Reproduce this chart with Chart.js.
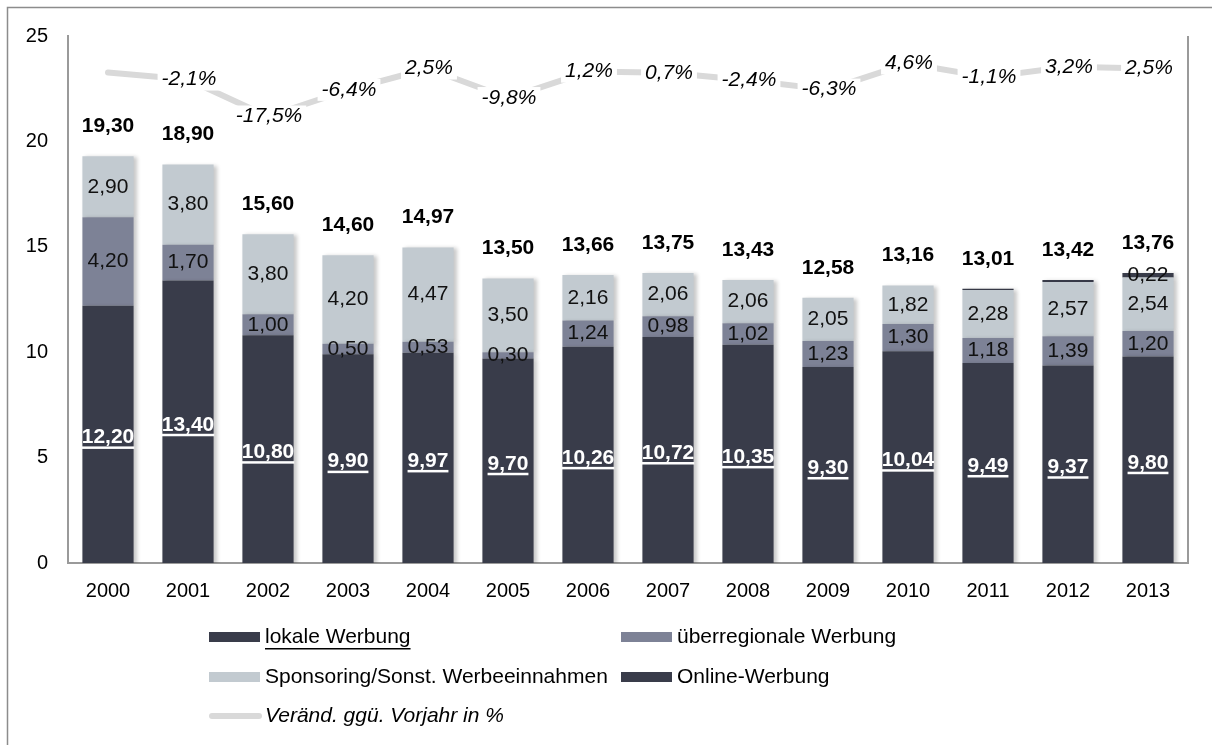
<!DOCTYPE html>
<html><head><meta charset="utf-8">
<script src="https://cdn.jsdelivr.net/npm/chart.js@4.4.0/dist/chart.umd.min.js"></script>
<style>html,body{margin:0;padding:0;background:#fff}#wrap{position:relative;width:1212px;height:745px}</style>
</head><body><div id="wrap"><canvas id="c" width="1212" height="745"></canvas></div>
<script>
// ---- data ----
const years = ['2000','2001','2002','2003','2004','2005','2006','2007','2008','2009','2010','2011','2012','2013'];
const lokale = [12.20,13.40,10.80,9.90,9.97,9.70,10.26,10.72,10.35,9.30,10.04,9.49,9.37,9.80];
const ueberregional = [4.20,1.70,1.00,0.50,0.53,0.30,1.24,0.98,1.02,1.23,1.30,1.18,1.39,1.20];
const sponsoring = [2.90,3.80,3.80,4.20,4.47,3.50,2.16,2.06,2.06,2.05,1.82,2.28,2.57,2.54];
const online = [0,0,0,0,0,0,0,0,0,0,0,0.06,0.09,0.22];
const totals = [19.30,18.90,15.60,14.60,14.97,13.50,13.66,13.75,13.43,12.58,13.16,13.01,13.42,13.76];
const changePct = [0.8,-2.1,-17.5,-6.4,2.5,-9.8,1.2,0.7,-2.4,-6.3,4.6,-1.1,3.2,2.5];
const yTicks = [0,5,10,15,20,25];

const FONT = "'Liberation Sans', Arial, sans-serif";
const C_DARK = '#393c4a', C_MID = '#7d8296', C_LIGHT = '#c2cad0', C_LINE = '#d9d9d9';
const fmt = (v, d) => v.toFixed(d).replace('.', ',');

const framePlugin = {
  id: 'frame',
  beforeDraw(chart) {
    const ctx = chart.ctx;
    ctx.save();
    ctx.fillStyle = '#fff';
    ctx.fillRect(0, 0, chart.width, chart.height);
    ctx.strokeStyle = '#8c8c8c';
    ctx.lineWidth = 1.5;
    ctx.strokeRect(7.5, 7.5, 1300, 1000);
    ctx.restore();
  },
  afterDraw(chart) {
    const ctx = chart.ctx, a = chart.chartArea;
    ctx.save();
    ctx.strokeStyle = '#9a9a9a';
    ctx.lineWidth = 2;
    ctx.beginPath();
    ctx.moveTo(a.right, a.top);
    ctx.lineTo(a.right, a.bottom);
    ctx.stroke();
    ctx.restore();
  }
};

const shadowPlugin = {
  id: 'barShadow',
  beforeDatasetDraw(chart, args) {
    if (args.meta.type !== 'bar') return;
    const ctx = chart.ctx;
    ctx.save();
    ctx.shadowColor = 'rgba(0,0,0,0.22)';
    ctx.shadowBlur = 4;
    ctx.shadowOffsetX = 3;
    ctx.shadowOffsetY = 1;
  },
  afterDatasetDraw(chart, args) {
    if (args.meta.type !== 'bar') return;
    chart.ctx.restore();
  }
};

const labelPlugin = {
  id: 'labels',
  afterDatasetsDraw(chart) {
    const ctx = chart.ctx;
    ctx.save();
    ctx.textAlign = 'center';
    ctx.textBaseline = 'middle';
    // segment labels
    chart.data.datasets.forEach((ds, di) => {
      if (ds.type === 'line') return;
      const meta = chart.getDatasetMeta(di);
      meta.data.forEach((el, i) => {
        const v = ds.data[i];
        if (ds.key === 'online' && v < 0.2) return;
        const cy = (el.y + el.base) / 2;
        if (ds.key === 'lokale') {
          ctx.font = 'bold 21px ' + FONT;
          ctx.fillStyle = '#fff';
          const t = fmt(v, 2);
          ctx.fillText(t, el.x, cy + 3);
          const w = ctx.measureText(t).width;
          ctx.fillRect(el.x - w / 2, cy + 12, w, 2.5);
        } else {
          ctx.font = '21px ' + FONT;
          ctx.fillStyle = '#111';
          ctx.fillText(fmt(v, 2), el.x, cy);
        }
      });
    });
    // totals
    const ys = chart.scales.y, xs = chart.scales.x;
    ctx.font = 'bold 21px ' + FONT;
    ctx.fillStyle = '#000';
    totals.forEach((t, i) => {
      const top = ys.getPixelForValue(lokale[i] + ueberregional[i] + sponsoring[i] + online[i]);
      ctx.fillText(fmt(t, 2), xs.getPixelForValue(i), top - 30);
    });
    // percent labels
    const lm = chart.getDatasetMeta(0);
    ctx.font = 'italic 21px ' + FONT;
    lm.data.forEach((pt, i) => {
      if (i === 0) return;
      const t = fmt(changePct[i], 1) + '%';
      const w = ctx.measureText(t).width;
      ctx.fillStyle = '#fff';
      ctx.fillRect(pt.x - w / 2 - 3, pt.y - 11, w + 8, 22);
      ctx.fillStyle = '#000';
      ctx.fillText(t, pt.x + 1, pt.y);
    });
    ctx.restore();
  }
};

const legendPlugin = {
  id: 'customLegend',
  afterDraw(chart) {
    const ctx = chart.ctx;
    const slots = [
      { ds: 1, x: 209, y: 637 },
      { ds: 2, x: 621, y: 637 },
      { ds: 3, x: 209, y: 677 },
      { ds: 4, x: 621, y: 677 },
      { ds: 0, x: 209, y: 716 }
    ];
    ctx.save();
    ctx.textBaseline = 'middle';
    ctx.textAlign = 'left';
    slots.forEach(s => {
      const ds = chart.data.datasets[s.ds];
      if (ds.type === 'line') {
        ctx.strokeStyle = ds.borderColor;
        ctx.lineWidth = 6;
        ctx.lineCap = 'round';
        ctx.beginPath();
        ctx.moveTo(s.x + 3, s.y);
        ctx.lineTo(s.x + 50, s.y);
        ctx.stroke();
        ctx.font = 'italic 21px ' + FONT;
      } else {
        ctx.fillStyle = ds.backgroundColor;
        ctx.fillRect(s.x, s.y - 5, 51, 10);
        ctx.font = '21px ' + FONT;
      }
      ctx.fillStyle = '#000';
      const tx = s.x + 56;
      ctx.fillText(ds.label, tx, s.y);
      if (ds.key === 'lokale') {
        const w = ctx.measureText(ds.label).width;
        ctx.fillRect(tx, s.y + 11, w, 1.5);
      }
    });
    ctx.restore();
  }
};

new Chart(document.getElementById('c'), {
  type: 'bar',
  data: {
    labels: years,
    datasets: [
      { type: 'line', key: 'pct', label: 'Veränd. ggü. Vorjahr in %', data: changePct, yAxisID: 'y2',
        borderColor: C_LINE, backgroundColor: C_LINE, borderWidth: 6, pointRadius: 0, tension: 0,
        borderCapStyle: 'round', borderJoinStyle: 'round', order: 0 },
      { key: 'lokale', label: 'lokale Werbung', data: lokale, backgroundColor: C_DARK, order: 1 },
      { key: 'ueber', label: 'überregionale Werbung', data: ueberregional, backgroundColor: C_MID, order: 1 },
      { key: 'spons', label: 'Sponsoring/Sonst. Werbeeinnahmen', data: sponsoring, backgroundColor: C_LIGHT, order: 1 },
      { key: 'online', label: 'Online-Werbung', data: online, backgroundColor: C_DARK, order: 1 }
    ]
  },
  options: {
    responsive: false,
    animation: false,
    events: [],
    layout: { padding: { top: 36, right: 24, bottom: 138, left: 0 } },
    datasets: { bar: { categoryPercentage: 1, barPercentage: 0.64, borderWidth: 0 } },
    plugins: { legend: { display: false }, tooltip: { enabled: false } },
    scales: {
      x: {
        stacked: true,
        grid: { display: false, drawTicks: false },
        border: { display: true, color: '#9a9a9a', width: 2 },
        ticks: { color: '#000', font: { family: FONT, size: 20 }, padding: 16 },
        afterFit(s) { s.height = 44; }
      },
      y: {
        stacked: true, min: 0, max: 25,
        grid: { display: false, drawTicks: false },
        border: { display: true, color: '#9a9a9a', width: 2 },
        ticks: { color: '#000', font: { family: FONT, size: 20 }, padding: 20 },
        afterBuildTicks(s) { s.ticks = yTicks.map(v => ({ value: v })); },
        afterFit(s) { s.width = 68; }
      },
      y2: { display: false, min: -203.5, max: 16.04 }
    }
  },
  plugins: [framePlugin, shadowPlugin, labelPlugin, legendPlugin]
});
</script></body></html>
